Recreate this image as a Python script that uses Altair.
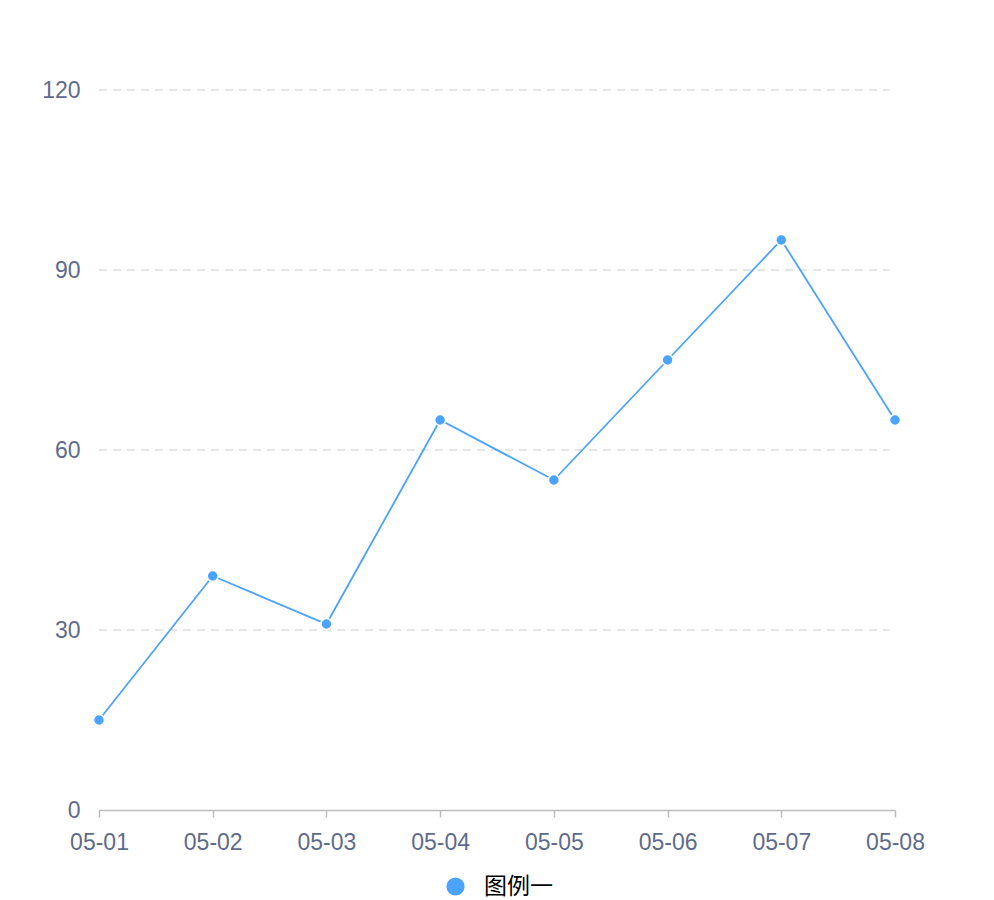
import altair as alt
import pandas as pd

dates = ["05-01", "05-02", "05-03", "05-04", "05-05", "05-06", "05-07", "05-08"]
values = [15, 39, 31, 65, 55, 75, 95, 65]
series_name = "图例一"
grid_values = [30, 60, 90, 120]
y_ticks = [0, 30, 60, 90, 120]

df = pd.DataFrame({"date": dates, "value": values, "series": [series_name] * len(dates)})
grid_df = pd.DataFrame({"g": grid_values})

color = "#4AA3FF"
label_color = "#5F6B8A"

x = alt.X("date:N", sort=dates, scale=alt.Scale(type="point", padding=0),
          axis=alt.Axis(title=None, labelAngle=0, labelFontSize=23, labelColor=label_color,
                        labelFont="Liberation Sans", labelPadding=14, tickSize=7, tickColor="#BBBBBB",
                        domainColor="#BBBBBB", domainWidth=1.5, tickWidth=1.5, grid=False))
yscale = alt.Scale(domain=[0, 120], nice=False)
yaxis = alt.Axis(title=None, values=y_ticks, labelFontSize=23, labelColor=label_color,
                 labelFont="Liberation Sans", labelPadding=19, ticks=False, domain=False, grid=False)
y = alt.Y("value:Q", scale=yscale, axis=yaxis)

grid = alt.Chart(grid_df).mark_rule(color="#DDDDDD", strokeWidth=1.5, strokeDash=[8, 6]).encode(
    y=alt.Y("g:Q", scale=yscale, axis=yaxis),
    x=alt.value(0), x2=alt.value(791),
)
line = alt.Chart(df).mark_line(color=color, strokeWidth=1.8).encode(x=x, y=y)
points = alt.Chart(df).mark_point(filled=True, size=120, stroke="white", strokeWidth=1.5, opacity=1).encode(
    x=x, y=y,
    color=alt.Color("series:N", scale=alt.Scale(range=[color]),
                    legend=alt.Legend(title=None, orient="none", legendX=345, legendY=785,
                                      symbolType="circle", symbolSize=330, symbolStrokeWidth=0,
                                      labelFontSize=23, labelColor="#000000", labelFont="Noto Sans CJK SC",
                                      labelOffset=17)),
)

chart = alt.layer(grid, line, points).properties(
    width=796, height=720,
    autosize=alt.AutoSizeParams(type="none"),
    padding={"left": 91, "top": 82, "right": 80, "bottom": 90},
).configure_view(stroke=None)

chart.save("out.html", embed_options={"renderer": "svg", "actions": False})
